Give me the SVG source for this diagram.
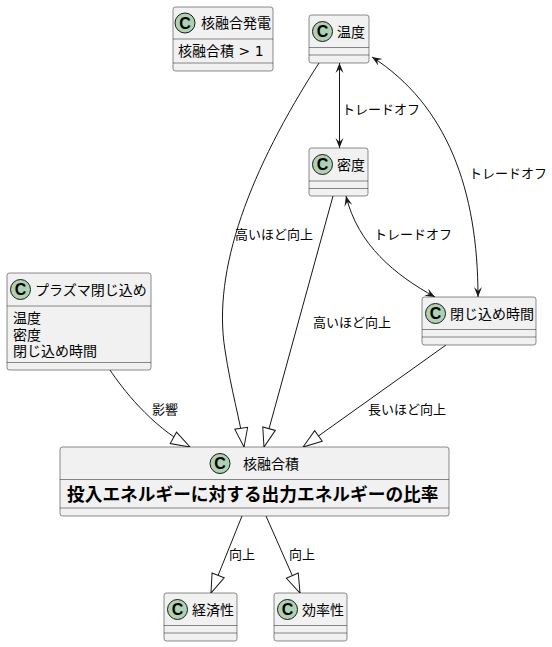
<svg xmlns="http://www.w3.org/2000/svg" width="552" height="647" viewBox="0 0 552 647">
<style>
.box{fill:#F1F1F1;stroke:#181818;stroke-width:0.5}
.sep{stroke:#181818;stroke-width:0.5}
.ci{fill:#ADD1B2;stroke:#181818;stroke-width:1}
.cl{font-family:"Liberation Sans",sans-serif;font-weight:bold;font-size:16px;fill:#000;text-anchor:middle}
.t{font-family:"Liberation Sans","Noto Sans CJK JP",sans-serif;font-size:14px;fill:#000}
.tj{font-family:"DejaVu Sans","Noto Sans CJK JP",sans-serif;font-size:14px;fill:#000}
.b{font-family:"Liberation Sans","Noto Sans CJK JP",sans-serif;font-size:17.7px;font-weight:bold;fill:#000}
.lb{font-family:"Liberation Sans","Noto Sans CJK JP",sans-serif;font-size:13px;fill:#000}
.e{fill:none;stroke:#181818;stroke-width:1}
</style>
<defs>
<marker id="tri" markerUnits="userSpaceOnUse" viewBox="-1 -1 22 16" markerWidth="22" markerHeight="16" refX="19" refY="6.5" orient="auto" overflow="visible">
<path d="M0,0 L19,6.5 L0,13 Z" fill="#FFFFFF" stroke="#181818" stroke-width="1"/>
</marker>
<marker id="arr" markerUnits="userSpaceOnUse" viewBox="0 0 10 10" markerWidth="10" markerHeight="10" refX="10" refY="5" orient="auto-start-reverse" overflow="visible">
<path d="M0,1 L10,5 L0,9 L4,5 Z" fill="#181818"/>
</marker>
</defs>
<rect width="552" height="647" fill="#FFFFFF"/>
<g id="connectors">
<path class="e" d="M339.5,63 L339.5,148" marker-start="url(#arr)" marker-end="url(#arr)"/>
<path class="e" d="M372,57 C447,105 478,190 478,297" marker-start="url(#arr)" marker-end="url(#arr)"/>
<path class="e" d="M346,196 C358,245 395,275 435,297" marker-start="url(#arr)" marker-end="url(#arr)"/>
<path class="e" d="M319,63 C250,170 212,270 225,350 C231,390 240,420 244,447" marker-end="url(#tri)"/>
<path class="e" d="M333,196 L264,447" marker-end="url(#tri)"/>
<path class="e" d="M110,370 C122,388 150,425 190,447" marker-end="url(#tri)"/>
<path class="e" d="M446,345 L303,447" marker-end="url(#tri)"/>
<path class="e" d="M242,516 L211,593" marker-end="url(#tri)"/>
<path class="e" d="M266,516 L300,593" marker-end="url(#tri)"/>
<text class="lb" x="342" y="113.5">トレードオフ</text>
<text class="lb" x="469" y="177.5">トレードオフ</text>
<text class="lb" x="374" y="238.5">トレードオフ</text>
<text class="lb" x="235" y="238.5">高いほど向上</text>
<text class="lb" x="313" y="326.5">高いほど向上</text>
<text class="lb" x="152" y="413.5">影響</text>
<text class="lb" x="368" y="413.5">長いほど向上</text>
<text class="lb" x="229" y="558.5">向上</text>
<text class="lb" x="289" y="558.5">向上</text>
</g>
<g id="node-hatsuden">
<rect class="box" x="173" y="7" width="100" height="64" rx="2.5"/>
<circle class="ci" cx="185" cy="23" r="10"/>
<text class="cl" x="185" y="28.5">C</text>
<text class="t" x="201" y="28">核融合発電</text>
<line class="sep" x1="173" y1="39" x2="273" y2="39"/>
<text class="tj" x="178" y="56">核融合積 &gt; 1</text>
<line class="sep" x1="173" y1="63" x2="273" y2="63"/>
</g>
<g id="node-ondo">
<rect class="box" x="309" y="15" width="60" height="48" rx="2.5"/>
<circle class="ci" cx="322.5" cy="31.5" r="10"/>
<text class="cl" x="322.5" y="37">C</text>
<text class="t" x="337" y="36.5">温度</text>
<line class="sep" x1="309" y1="47.5" x2="369" y2="47.5"/>
<line class="sep" x1="309" y1="55" x2="369" y2="55"/>
</g>
<g id="node-mitsudo">
<rect class="box" x="309" y="148" width="59" height="48" rx="2.5"/>
<circle class="ci" cx="322.5" cy="164.5" r="10"/>
<text class="cl" x="322.5" y="170">C</text>
<text class="t" x="337" y="169.5">密度</text>
<line class="sep" x1="309" y1="181" x2="368" y2="181"/>
<line class="sep" x1="309" y1="188.5" x2="368" y2="188.5"/>
</g>
<g id="node-tojikome-jikan">
<rect class="box" x="422" y="297" width="114" height="48" rx="2.5"/>
<circle class="ci" cx="435.5" cy="313.5" r="10"/>
<text class="cl" x="435.5" y="319">C</text>
<text class="t" x="450" y="318.5">閉じ込め時間</text>
<line class="sep" x1="422" y1="329.5" x2="536" y2="329.5"/>
<line class="sep" x1="422" y1="337" x2="536" y2="337"/>
</g>
<g id="node-plasma">
<rect class="box" x="7" y="273" width="144" height="97" rx="2.5"/>
<circle class="ci" cx="20.5" cy="289.5" r="10"/>
<text class="cl" x="20.5" y="295">C</text>
<text class="t" x="35" y="294.5">プラズマ閉じ込め</text>
<line class="sep" x1="7" y1="306" x2="151" y2="306"/>
<text class="t" x="13" y="323">温度</text>
<text class="t" x="13" y="339.5">密度</text>
<text class="t" x="13" y="356">閉じ込め時間</text>
<line class="sep" x1="7" y1="362.5" x2="151" y2="362.5"/>
</g>
<g id="node-kakuyugoseki">
<rect class="box" x="60" y="447" width="389" height="69" rx="2.5"/>
<circle class="ci" cx="220" cy="463.5" r="10"/>
<text class="cl" x="220" y="469">C</text>
<text class="t" x="243" y="468.5">核融合積</text>
<line class="sep" x1="60" y1="479.5" x2="449" y2="479.5"/>
<text class="b" x="67" y="501">投入エネルギーに対する出力エネルギーの比率</text>
<line class="sep" x1="60" y1="508" x2="449" y2="508"/>
</g>
<g id="node-keizaisei">
<rect class="box" x="164" y="593" width="73" height="48" rx="2.5"/>
<circle class="ci" cx="177.5" cy="609.5" r="10"/>
<text class="cl" x="177.5" y="615">C</text>
<text class="t" x="192" y="614.5">経済性</text>
<line class="sep" x1="164" y1="625.5" x2="237" y2="625.5"/>
<line class="sep" x1="164" y1="633" x2="237" y2="633"/>
</g>
<g id="node-kouritsusei">
<rect class="box" x="274" y="593" width="73" height="48" rx="2.5"/>
<circle class="ci" cx="287.5" cy="609.5" r="10"/>
<text class="cl" x="287.5" y="615">C</text>
<text class="t" x="302" y="614.5">効率性</text>
<line class="sep" x1="274" y1="625.5" x2="347" y2="625.5"/>
<line class="sep" x1="274" y1="633" x2="347" y2="633"/>
</g>
</svg>
